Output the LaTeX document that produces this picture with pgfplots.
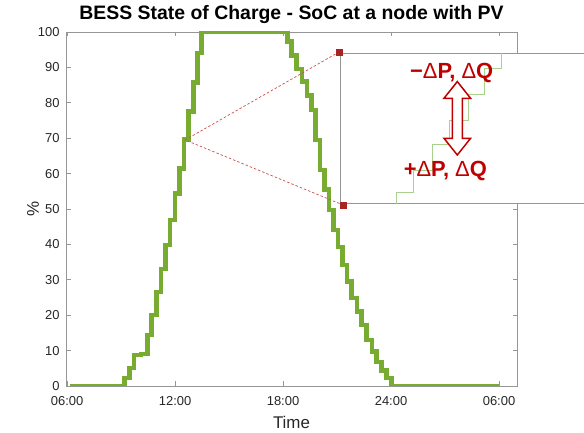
\documentclass[border=0pt]{standalone}
\usepackage{pgfplots}
\pgfplotsset{compat=1.18}
\usepackage{pgfplotstable}
\usepackage{fontspec}
\setmainfont{Liberation Sans}

\definecolor{socgreen}{RGB}{119,172,48}
\definecolor{insetgreen}{RGB}{169,209,142}
\definecolor{darkred}{RGB}{192,0,0}
\definecolor{dashred}{RGB}{205,80,80}
\definecolor{sqred}{RGB}{170,35,35}
\definecolor{axgray}{RGB}{150,150,150}

\pgfplotstableread{
h soc
6.17 0
9.18 2.3
9.46 5.1
9.72 8.7
10.1 9.0
10.46 14.4
10.7 20
10.98 26.6
11.22 33
11.48 39.8
11.72 46.9
12.0 54.4
12.24 61.5
12.5 69.7
12.74 77.5
13.02 85.8
13.24 94
13.48 100
18.24 97.3
18.48 93.3
18.76 89.5
19.04 86
19.32 82
19.57 78
19.8 69.5
20.05 61
20.3 55.5
20.55 49.7
20.8 44
21.05 39.3
21.3 34.2
21.55 29.5
21.8 24.8
22.1 21
22.37 17.2
22.65 13
22.93 9.7
23.2 6.8
23.48 4.4
23.76 2.2
24.04 0
30.0 0
}\soc

\begin{document}
\begin{tikzpicture}
\useasboundingbox (0,0) rectangle (584bp,433bp);
\begin{axis}[at={(66bp,47bp)}, anchor=south west, width=451bp, height=354bp, scale only axis,
  xmin=5.94, xmax=31, ymin=0, ymax=100,
  xtick={6,12,18,24,30}, xticklabels={06:00,12:00,18:00,24:00,06:00},
  ytick={0,10,...,100},
  tick align=inside, tick pos=both,
  axis line style={axgray, line width=0.8bp},
  tick style={axgray, line width=0.8bp},
  major tick length=4.5bp,
  tick label style={font=\fontsize{13}{15}\selectfont, text=black!85},
  xticklabel style={yshift=-7bp},
  yticklabel style={xshift=-3bp},
  /pgf/number format/assume math mode=true,
  xlabel={Time}, ylabel={\%},
  label style={font=\fontsize{17}{20}\selectfont, text=black!85},
  xlabel style={at={(axis description cs:0.5,-0.075)}, anchor=north},
  ylabel style={at={(axis description cs:-0.052,0.5)}, anchor=south},
  title={BESS State of Charge - SoC at a node with PV},
  title style={font=\fontsize{19.5}{22}\selectfont\bfseries, yshift=-1bp},
]
\addplot[const plot, socgreen, line width=4.5bp] table[x=h,y=soc]{\soc};
\end{axis}

% inset (zoomed view)
\begin{axis}[at={(340.7bp,229.7bp)}, anchor=south west, width=259.3bp, height=150bp, scale only axis,
  xmin=11.21, xmax=14.87, ymin=51, ymax=98.8, ticks=none,
  axis line style={axgray, line width=0.8bp},
  axis background/.style={fill=white}]
\addplot[const plot, insetgreen, line width=0.9bp] table[x=h,y=soc]{\soc};
\end{axis}

% zoom connector lines
\begin{axis}[at={(66bp,47bp)}, anchor=south west, width=451bp, height=354bp, scale only axis,
  xmin=5.94, xmax=31, ymin=0, ymax=100, hide axis, clip=false]
\addplot[dashred, line width=0.7bp, dash pattern=on 2.5bp off 2bp] coordinates {(21.13,94.4) (12.56,69.5) (21.35,51.1)};
\addplot[only marks, mark=square*, mark size=3bp, sqred] coordinates {(21.13,94.4) (21.35,51.1)};
\end{axis}

\node[anchor=base, text=darkred, font=\fontsize{22}{26}\selectfont\bfseries] at (451.7bp,354.7bp) {−{\mdseries Δ}P, {\mdseries Δ}Q};
\node[anchor=base, text=darkred, font=\fontsize{22}{26}\selectfont\bfseries] at (445.3bp,256.3bp) {+{\mdseries Δ}P, {\mdseries Δ}Q};
\draw[darkred, line width=1.5bp, fill=white, shift={(457.3bp,314.7bp)}]
  (0,36.7bp) -- (13.3bp,20bp) -- (5bp,20bp) -- (5bp,-20bp) -- (13.3bp,-20bp) -- (0,-36.7bp)
  -- (-13.3bp,-20bp) -- (-5bp,-20bp) -- (-5bp,20bp) -- (-13.3bp,20bp) -- cycle;
\end{tikzpicture}
\end{document}
